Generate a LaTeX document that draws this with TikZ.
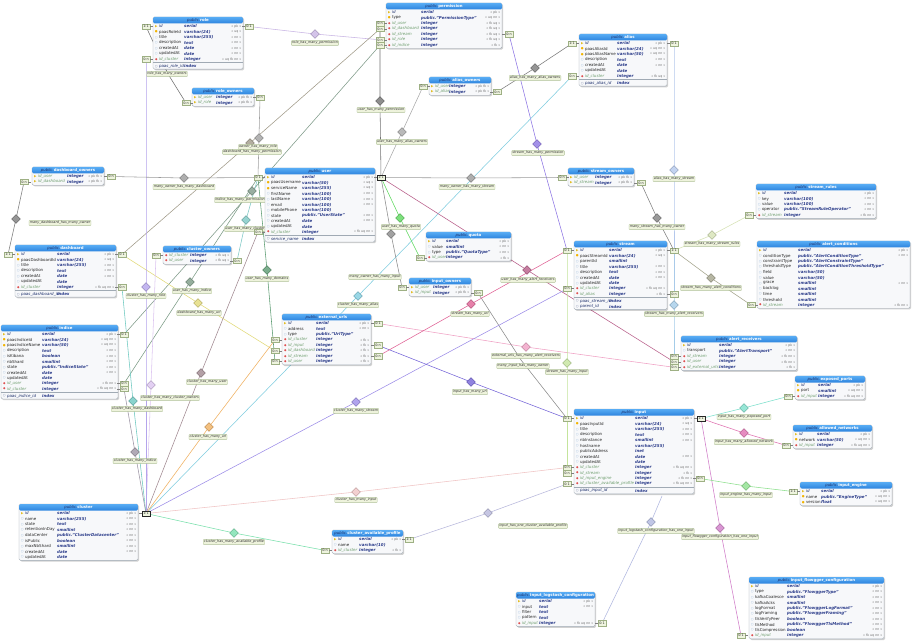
\documentclass[tikz,border=0pt]{standalone}
\usepackage{fontspec}
\setmainfont{DejaVu Sans}
\usetikzlibrary{shapes.geometric}
\pgfdeclarelayer{bg}
\pgfsetlayers{bg,main}

\definecolor{hdrtop}{HTML}{58ACF4}
\definecolor{hdrbot}{HTML}{2D84DE}
\definecolor{navy}{HTML}{1B2E6B}
\definecolor{typec}{HTML}{2B3C8A}
\definecolor{fkgreen}{HTML}{6E9E6E}
\definecolor{flagc}{HTML}{6A6A6A}
\definecolor{tbodyc}{HTML}{F7F8FA}
\definecolor{tborder}{HTML}{A0AAB4}
\definecolor{lblfill}{HTML}{EEF3DC}
\definecolor{lbldraw}{HTML}{AFC096}
\definecolor{cardfill}{HTML}{EEF4DE}
\definecolor{carddraw}{HTML}{9EB084}
\colorlet{nmk}{navy}
\colorlet{nmu}{black!85}
\colorlet{nmn}{black!85}
\colorlet{nmf}{fkgreen}
\colorlet{nmp}{fkgreen}

\definecolor{r1}{HTML}{C8B4E4}
\definecolor{r2}{HTML}{707070}
\definecolor{r3}{HTML}{727272}
\definecolor{r4}{HTML}{A0A0A0}
\definecolor{r5}{HTML}{A09A88}
\definecolor{r6}{HTML}{7E9A88}
\definecolor{r7}{HTML}{A8A8A8}
\definecolor{r8}{HTML}{7A7A7A}
\definecolor{r9}{HTML}{8C74E4}
\definecolor{r10}{HTML}{80CDE0}
\definecolor{r11}{HTML}{B4C8EC}
\definecolor{r12}{HTML}{9A9A9A}
\definecolor{r13}{HTML}{808080}
\definecolor{r14}{HTML}{D6E2B4}
\definecolor{r15}{HTML}{A4A48C}
\definecolor{r16}{HTML}{A4CCE8}
\definecolor{r17}{HTML}{B85C88}
\definecolor{r18}{HTML}{F0A0C4}
\definecolor{r19}{HTML}{5CD85C}
\definecolor{r20}{HTML}{8A8A8A}
\definecolor{r21}{HTML}{8A8A8A}
\definecolor{r22}{HTML}{5A9A70}
\definecolor{r23}{HTML}{E2DA78}
\definecolor{r24}{HTML}{7A9A84}
\definecolor{r25}{HTML}{DCC4F0}
\definecolor{r26}{HTML}{7CC8C4}
\definecolor{r27}{HTML}{A08890}
\definecolor{r28}{HTML}{6CC8C0}
\definecolor{r29}{HTML}{B4A4EC}
\definecolor{r30}{HTML}{9C94A4}
\definecolor{r31}{HTML}{F0B060}
\definecolor{r32}{HTML}{9C8CE8}
\definecolor{r33}{HTML}{F0C4C4}
\definecolor{r34}{HTML}{78E0AC}
\definecolor{r35}{HTML}{B8B8DC}
\definecolor{r36}{HTML}{B0B8E0}
\definecolor{r37}{HTML}{D07CC8}
\definecolor{r38}{HTML}{7CE0CC}
\definecolor{r39}{HTML}{E070B0}
\definecolor{r40}{HTML}{8CE08C}
\definecolor{r41}{HTML}{C4E49C}
\definecolor{r42}{HTML}{7464D8}
\definecolor{r43}{HTML}{E06094}
\definecolor{r44}{HTML}{9A9A9A}
\definecolor{r45}{HTML}{7A7A7A}

\newcommand\rowfont{\fontsize{4}{4.8}\selectfont}
\newcommand\flagfont{\fontsize{3.2}{4}\selectfont}
\newcommand\hdrfont{\fontsize{3.9}{4.6}\selectfont}
\newcommand\rlfont{\fontsize{3.4}{4}\selectfont\itshape}
\newcommand\cardfont{\fontsize{3.4}{4}\selectfont}
\newcommand\iconfont{\fontsize{3.2}{4}\selectfont}

\newcommand\ick{\textcolor[HTML]{E2BC1E}{▶}}
\newcommand\icu{\textcolor[HTML]{F2B400}{●}}
\newcommand\icn{\textcolor[HTML]{8AAED6}{○}}
\newcommand\icf{\textcolor[HTML]{DD4444}{◆}}
\newcommand\icp{\textcolor[HTML]{E2BC1E}{▶}}
\newcommand\fsk{\itshape}
\newcommand\fsu{}
\newcommand\fsn{}
\newcommand\fsf{\itshape}
\newcommand\fsp{\itshape}

\tikzset{
  conn/.style={line width=.55pt},
  dia/.style={diamond,aspect=1,minimum width=9,minimum height=9,inner sep=0,
    fill=#1!80!white,draw=#1!75!black,line width=.3},
  rlbl/.style={fill=lblfill,draw=lbldraw,line width=.3,inner sep=.7,
    rounded corners=.5,font=\rlfont,text=black!80},
  card/.style={fill=cardfill,draw=carddraw,line width=.35,inner sep=.6,
    minimum width=8,minimum height=5.3,font=\cardfont,text=black!80},
  stubline/.style={draw=black!50,line width=.4},
  cardL/.style={card,append after command={(\tikzlastnode.east) edge[stubline] ++(2.5,0)}},
  cardR/.style={card,append after command={(\tikzlastnode.west) edge[stubline] ++(-2.5,0)}},
  cardD/.style={draw=black!85,line width=.6},
  tbody/.style={draw=tborder,fill=tbodyc,rounded corners=1.5,line width=.4,inner sep=0,outer sep=0},
  rowtext/.style={inner sep=0,font=\rowfont,anchor=west},
  typetext/.style={inner sep=0,font=\rowfont\bfseries\itshape,text=typec,anchor=west},
  flagtext/.style={inner sep=0,font=\flagfont,text=flagc,anchor=east},
  rowicon/.style={inner sep=0,font=\iconfont},
}

\newcounter{nrows}
% #1 name #2 x0 #3 x1 #4 y0 #5 typeX #6 title #7 rows #8 number of index rows #9 index rows
\newcommand\dbtable[9]{%
  \setcounter{nrows}{0}%
  \foreach \q in {#7}{\stepcounter{nrows}}%
  \pgfmathsetmacro\lasty{#4+9.5+(\the\value{nrows}-1)*5.45}%
  \ifnum#8>0\relax
    \pgfmathsetmacro\boty{\lasty+3+#8*5.5+1.5}%
  \else
    \pgfmathsetmacro\boty{\lasty+3.3}%
  \fi
  \pgfmathsetmacro\tbw{#3-#2}%
  \pgfmathsetmacro\tbh{\boty-#4}%
  \fill[black,opacity=.18,rounded corners=1.5] (#2+1.2,#4+1.2) rectangle (#3+1.2,\boty+1.2);
  \node[tbody,minimum width=\tbw,minimum height=\tbh,anchor=north west] (#1) at (#2,#4) {};
  \shade[top color=hdrtop,bottom color=hdrbot,rounded corners=1.5] (#2,#4) rectangle (#3,#4+6.5);
  \node[inner sep=0,font=\hdrfont] (#1-h) at ({(#2+#3)/2},#4+3.4)
    {\textcolor{navy}{\itshape public.}\textcolor{white}{\bfseries #6}};
  \foreach \ic/\nm/\ty/\fl [count=\i] in {#7}{%
    \pgfmathsetmacro\yy{#4+9.5+(\i-1)*5.45}%
    \node[rowicon] (#1-i\i) at (#2+3.3,\yy) {\csname ic\ic\endcsname};
    \node[rowtext] (#1-n\i) at (#2+5.8,\yy) {\textcolor{nm\ic}{\csname fs\ic\endcsname\nm}};
    \node[typetext] (#1-t\i) at (#5,\yy) {\ty};
    \node[flagtext] (#1-f\i) at (#3-1.5,\yy) {\fl};
  }%
  \ifnum#8>0\relax
    \draw[tborder,line width=.3] (#2,\lasty+3) -- (#3,\lasty+3);
    \foreach \nm [count=\i] in {#9}{%
      \pgfmathsetmacro\yy{\lasty+1.5+\i*5.5}%
      \node[rowicon,text=navy!70] (#1-xi\i) at (#2+3.3,\yy) {○};
      \node[rowtext,text=navy] (#1-xn\i) at (#2+5.8,\yy) {\itshape\nm};
      \node[typetext] (#1-xt\i) at (#5,\yy) {index};
    }%
  \fi
}

\begin{document}
\begin{tikzpicture}[x=1pt,y=-1pt]
\useasboundingbox (0,0) rectangle (916,644);
\begin{pgfonlayer}{bg}
\fill[white] (0,0) rectangle (916,644);
\end{pgfonlayer}

% ---------- relationship diamonds and labels ----------
\node[dia=r1] (d1) at (315,34) {};   \node[rlbl] (l1) at (315,43) {role\_has\_many\_permission};
\coordinate (d2) at (168,74);        \node[rlbl] (l2) at (167,74) {role\_has\_many\_owners};
\node[dia=r3] (d3) at (380,101) {};  \node[rlbl] (l3) at (381,110) {user\_has\_many\_permission};
\node[dia=r4] (d4) at (259,138) {};
\node[dia=r5] (d5) at (250,143) {};
\node[rlbl] (l4) at (258,147) {owner\_has\_many\_role};
\node[rlbl] (l5) at (252,152) {dashboard\_has\_many\_permission};
\node[dia=r6] (d6) at (252,191) {};  \node[rlbl] (l6) at (240,200) {indice\_has\_many\_permission};
\node[dia=r7] (d7) at (402,132) {};  \node[rlbl] (l7) at (402,142) {user\_has\_many\_alias\_owners};
\node[dia=r8] (d8) at (535,68) {};   \node[rlbl] (l8) at (535,78) {alias\_has\_many\_alias\_owners};
\node[dia=r9] (d9) at (537,144) {};  \node[rlbl] (l9) at (538,153) {stream\_has\_many\_permission};
\node[dia=r10] (d10) at (358,296) {}; \node[rlbl] (l10) at (358,305) {cluster\_has\_many\_alias};
\node[dia=r11] (d11) at (674,170) {}; \node[rlbl] (l11) at (674,179) {alias\_has\_many\_stream};
\node[dia=r12] (d12) at (471,178) {}; \node[rlbl] (l12) at (467,187) {many\_owner\_has\_many\_stream};
\node[dia=r13] (d13) at (657,218) {}; \node[rlbl] (l13) at (657,227) {many\_stream\_has\_many\_owner};
\node[dia=r14] (d14) at (712,235) {}; \node[rlbl] (l14) at (712,244) {stream\_has\_many\_stream\_rules};
\node[dia=r15] (d15) at (711,278) {}; \node[rlbl] (l15) at (711,288) {stream\_has\_many\_alert\_conditions};
\node[dia=r16] (d16) at (674,305) {}; \node[rlbl] (l16) at (674,314) {stream\_has\_many\_alert\_receivers};
\node[dia=r17] (d17) at (527,270) {}; \node[rlbl] (l17) at (528,280) {user\_has\_many\_alert\_receivers};
\node[dia=r18] (d18) at (526,347) {}; \node[rlbl] (l18) at (526,356) {external\_urls\_has\_many\_alert\_receivers};
\node[dia=r19] (d19) at (400,218) {}; \node[rlbl] (l19) at (401,227) {user\_has\_many\_quota};
\node[dia=r20] (d20) at (391,234) {}; \node[rlbl] (l20) at (375,277) {many\_owner\_has\_many\_input};
\coordinate (d21) at (521,360);       \node[rlbl] (l21) at (523,366) {many\_input\_has\_many\_owner};
\node[dia=r22] (d22) at (267,270) {}; \node[rlbl] (l22) at (267,279) {user\_has\_many\_domains};
\node[dia=r23] (d23) at (198,303) {}; \node[rlbl] (l23) at (199,313) {dashboard\_has\_many\_url};
\node[dia=r24] (d24) at (190,282) {}; \node[rlbl] (l24) at (192,291) {user\_has\_many\_indice};
\node[dia=r25] (d25) at (151,385) {}; \node[rlbl] (l25) at (170,398) {cluster\_has\_many\_cluster\_owners};
\node[dia=r26] (d26) at (246,220) {}; \node[rlbl] (l26) at (252,229) {user\_has\_many\_cluster\_owners};
\node[dia=r27] (d27) at (201,373) {}; \node[rlbl] (l27) at (207,382) {cluster\_has\_many\_user};
\node[dia=r28] (d28) at (133,401) {}; \node[rlbl] (l28) at (137,409) {cluster\_has\_many\_dashboard};
\node[dia=r29] (d29) at (146,287) {}; \node[rlbl] (l29) at (146,296) {cluster\_has\_many\_role};
\node[dia=r30] (d30) at (135,452) {}; \node[rlbl] (l30) at (135,461) {cluster\_has\_many\_indice};
\node[dia=r31] (d31) at (209,427) {}; \node[rlbl] (l31) at (208,437) {cluster\_has\_many\_url};
\node[dia=r32] (d32) at (356,402) {}; \node[rlbl] (l32) at (356,411) {cluster\_has\_many\_stream};
\node[dia=r33] (d33) at (356,492) {}; \node[rlbl] (l33) at (356,500) {cluster\_has\_many\_input};
\node[dia=r34] (d34) at (234,533) {}; \node[rlbl] (l34) at (234,542) {cluster\_has\_many\_available\_profile};
\node[dia=r35] (d35) at (488,513) {}; \node[rlbl] (l35) at (533,526) {input\_has\_one\_cluster\_available\_profile};
\node[dia=r36] (d36) at (651,522) {}; \node[rlbl] (l36) at (656,531) {input\_logstash\_configuration\_has\_one\_input};
\node[dia=r37] (d37) at (720,528) {}; \node[rlbl] (l37) at (720,537) {input\_flowgger\_configuration\_has\_one\_input};
\node[dia=r38] (d38) at (744,408) {}; \node[rlbl] (l38) at (744,417) {input\_has\_many\_exposed\_port};
\node[dia=r39] (d39) at (744,433) {}; \node[rlbl] (l39) at (744,442) {input\_has\_many\_allowed\_network};
\node[dia=r40] (d40) at (746,486) {}; \node[rlbl] (l40) at (746,495) {input\_engine\_has\_many\_input};
\node[dia=r41] (d41) at (567,363) {}; \node[rlbl] (l41) at (567,372) {stream\_has\_many\_input};
\node[dia=r42] (d42) at (471,382) {}; \node[rlbl] (l42) at (470,392) {input\_has\_many\_url};
\node[dia=r43] (d43) at (471,304) {}; \node[rlbl] (l43) at (470,314) {stream\_has\_many\_url};
\node[dia=r44] (d44) at (184,178) {}; \node[rlbl] (l44) at (184,187) {many\_owner\_has\_many\_dashboard};
\node[dia=r45] (d45) at (16,219) {};  \node[rlbl] (l45) at (60,223) {many\_dashboard\_has\_many\_owner};
\coordinate (inbot) at (662,496);

% ---------- tables ----------
\dbtable{role}{153}{243}{17}{184}{role}{k/id/serial/« pk », u/paasRoleId/varchar(24)/« uq », n/title/varchar(255)/« nn », n/description/text/« nn », n/createdAt/date/« nn », n/updatedAt/date/« nn », f/id\_cluster/integer/« uq fk nn »}{1}{paas\_role\_id}
\dbtable{roleowners}{192}{254}{88}{216}{role\_owners}{p/id\_user/integer/« pk fk », p/id\_role/integer/« pk fk »}{0}{}
\dbtable{permission}{386}{502}{3}{421}{permission}{k/id/serial/« pk », u/type/public."PermissionType"/« uq nn », f/id\_user/integer/« fk uq », f/id\_dashboard/integer/« fk uq », f/id\_stream/integer/« fk uq », f/id\_role/integer/« fk uq », f/id\_indice/integer/« fk »}{0}{}
\dbtable{aliasowners}{429}{491}{77}{449}{alias\_owners}{p/id\_user/integer/« pk fk », p/id\_alias/integer/« pk fk »}{0}{}
\dbtable{alias}{579}{667}{34}{617}{alias}{k/id/serial/« pk », u/paasAliasId/varchar(24)/« uq nn », u/paasAliasName/varchar(50)/« uq nn », n/description/text/« nn », n/createdAt/date/« nn », n/updatedAt/date/{}, f/id\_cluster/integer/« fk uq »}{1}{paas\_alias\_id}
\dbtable{streamowners}{568}{634}{168}{595}{stream\_owners}{p/id\_user/integer/« pk fk », p/id\_stream/integer/« pk fk »}{0}{}
\dbtable{streamrules}{756}{876}{184}{784}{stream\_rules}{k/id/serial/« pk », n/key/varchar(100)/« nn », n/value/varchar(100)/« nn », n/operator/public."StreamRuleOperator"/« nn », f/id\_stream/integer/« fk nn »}{0}{}
\dbtable{alertcond}{757}{910}{241}{798}{alert\_conditions}{k/id/serial/« pk », n/conditionType/public."AlertConditionType"/« nn », n/constraintType/public."AlertConstraintType"/{}, n/thresholdType/public."AlertConditionThresholdType"/{}, n/field/varchar(50)/{}, n/value/varchar(50)/{}, n/grace/smallint/« nn », n/backlog/smallint/{}, n/time/smallint/{}, n/threshold/smallint/{}, f/id\_stream/integer/« fk nn »}{0}{}
\dbtable{user}{265}{375}{168}{302}{user}{k/id/serial/« pk », u/paasUsername/varchar(50)/« uq », u/serviceName/varchar(255)/« uq », n/firstName/varchar(100)/« nn », n/lastName/varchar(100)/« nn », n/email/varchar(100)/« nn », n/mobilePhone/varchar(100)/{}, n/state/public."UserState"/« nn », n/createdAt/date/« nn », n/updatedAt/date/{}, f/id\_cluster/integer/« fk uq nn »}{1}{service\_name}
\dbtable{dashowners}{32}{104}{167}{67}{dashboard\_owners}{p/id\_user/integer/« pk fk », p/id\_dashboard/integer/« pk fk »}{0}{}
\dbtable{dashboard}{15}{116}{245}{57}{dashboard}{k/id/serial/« pk », u/paasDashboardId/varchar(24)/« uq », n/title/varchar(255)/« nn », n/description/text/« nn », n/createdAt/date/« nn », n/updatedAt/date/{}, f/id\_cluster/integer/« fk uq nn »}{1}{paas\_dashboard\_id}
\dbtable{clusterowners}{163}{231}{246}{190}{cluster\_owners}{f/id\_cluster/integer/« fk uq », f/id\_user/integer/« fk uq »}{0}{}
\dbtable{indice}{1}{118}{325}{42}{indice}{k/id/serial/« pk », u/paasIndiceId/varchar(24)/« uq nn », u/paasIndiceName/varchar(50)/« uq nn », n/description/text/« nn », n/isKibana/boolean/« nn », n/nbShard/smallint/« nn », n/state/public."IndiceState"/« nn », n/createdAt/date/« nn », n/updatedAt/date/{}, f/id\_user/integer/« fk nn », f/id\_cluster/integer/« fk uq nn »}{1}{paas\_indice\_id}
\dbtable{quota}{426}{511}{232}{446}{quota}{k/id/serial/« pk », n/value/smallint/« nn », n/type/public."QuotaType"/« nn », f/id\_user/integer/« fk »}{0}{}
\dbtable{inputowners}{409}{471}{278}{433}{input\_owners}{p/id\_user/integer/« pk fk », p/id\_input/integer/« pk fk »}{0}{}
\dbtable{stream}{574}{667}{241}{609}{stream}{k/id/serial/« pk », u/paasStreamId/varchar(24)/« uq », n/parentId/smallint/{}, n/title/varchar(255)/« nn », n/description/text/« nn », n/createdAt/date/« nn », n/updatedAt/date/{}, f/id\_cluster/integer/« fk uq nn », f/id\_alias/integer/« fk »}{2}{paas\_stream\_id, parent\_id}
\dbtable{alertrec}{681}{797}{336}{719}{alert\_receivers}{k/id/serial/« pk », n/transport/public."AlertTransport"/« nn », f/id\_stream/integer/« fk nn », f/id\_user/integer/« fk nn », f/id\_external\_urls/integer/« fk »}{0}{}
\dbtable{exposedports}{795}{865}{376}{818}{exposed\_ports}{k/id/serial/« pk », u/port/smallint/« uq nn », f/id\_input/integer/« fk uq nn »}{0}{}
\dbtable{allowednet}{793}{872}{425}{817}{allowed\_networks}{k/id/serial/« pk », u/network/varchar(50)/« uq nn », f/id\_input/integer/« fk uq nn »}{0}{}
\dbtable{inputengine}{800}{892}{482}{821}{input\_engine}{k/id/serial/« pk », u/name/public."EngineType"/« uq nn », u/version/float/« uq nn »}{0}{}
\dbtable{input}{574}{694}{409}{635}{input}{k/id/serial/« pk », u/paasInputId/varchar(24)/« uq », n/title/varchar(255)/« nn », n/description/text/« nn », n/nbInstance/smallint/« nn », n/hostname/varchar(255)/{}, n/publicAddress/inet/{}, n/createdAt/date/« nn », n/updatedAt/date/{}, f/id\_cluster/integer/« fk uq nn », f/id\_stream/integer/« fk », f/id\_input\_engine/integer/« fk nn », f/id\_cluster\_available\_profile/integer/« fk uq nn »}{1}{paas\_input\_id}
\dbtable{cluster}{19}{138}{504}{57}{cluster}{k/id/serial/« pk », n/name/varchar(255)/« nn », n/state/text/« nn », n/retentionInDay/smallint/« nn », n/dataCenter/public."ClusterDatacenter"/« nn », n/isPublic/boolean/« nn », n/maxNbShard/smallint/« nn », n/createdAt/date/« nn », n/updatedAt/date/{}}{0}{}
\dbtable{cap}{332}{403}{530}{359}{cluster\_available\_profile}{k/id/serial/« pk », n/name/varchar(10)/{}, f/id\_cluster/integer/« fk »}{0}{}
\dbtable{ilc}{516}{595}{592}{539}{input\_logstash\_configuration}{k/id/serial/« pk », n/input/text/« nn », n/filter/text/{}, n/pattern/text/{}, f/id\_input/integer/« fk uq nn »}{0}{}
\dbtable{ifc}{749}{884}{577}{787}{input\_flowgger\_configuration}{k/id/serial/« pk », n/type/public."FlowggerType"/« nn », n/kafkaCoalesce/smallint/« nn », n/kafkaAcks/smallint/« nn », n/logFormat/public."FlowggerLogFormat"/« nn », n/logFraming/public."FlowggerFraming"/« nn », n/tlsVerifyPeer/boolean/« nn », n/tlsMethod/public."FlowggerTlsMethod"/« nn », n/tlsCompression/boolean/« nn », f/id\_input/integer/« fk uq nn »}{0}{}
\dbtable{exturls}{282}{371}{314}{316}{external\_urls}{k/id/serial/« pk », n/address/text/« nn », n/type/public."UrlType"/{}, f/id\_cluster/integer/« fk », f/id\_input/integer/« fk », f/id\_dashboard/integer/« fk », f/id\_stream/integer/« fk », f/id\_user/integer/« fk »}{0}{}

% ---------- cardinality labels ----------
\node[cardR] (c1) at (249,26.5) {0:1};
\node[cardL] (c2) at (146,26.5) {1:1};
\node[cardL] (c3) at (146,59.2) {0:n};
\node[cardL] (c4) at (186,103) {0:n};
\node[cardR] (c5) at (260,97.5) {0:n};
\node[cardL] (c6) at (380,23.4) {0:n};
\node[cardL] (c7) at (380,28.9) {0:n};
\node[cardL] (c8) at (380,39.8) {0:n};
\node[cardL] (c9) at (380,45.2) {0:n};
\node[cardR] (c10) at (509,34.3) {0:n};
\node[cardL] (c11) at (423,86.5) {0:n};
\node[cardR] (c12) at (497,92) {0:n};
\node[cardL] (c13) at (572,43.5) {1:1};
\node[cardL] (c14) at (572,76.2) {0:n};
\node[cardR] (c15) at (674,43.5) {0:1};
\node[cardL] (c16) at (562,177.5) {0:n};
\node[cardR] (c17) at (641,183) {0:n};
\node[cardL] (c18) at (749,215.3) {0:n};
\node[cardL] (c19) at (751,305) {0:n};
\node[cardL] (c20) at (258,177.5) {0:1};
\node[cardR,cardD] (c21) at (381,177.5) {1:1};
\node[cardL] (c22) at (258,232) {0:n};
\node[cardR] (c23) at (111,176.5) {0:n};
\node[cardL] (c24) at (24,182) {0:n};
\node[cardL] (c25) at (8,254.5) {1:1};
\node[cardR] (c26) at (122,254.5) {0:1};
\node[cardR] (c27) at (122,287.2) {0:n};
\node[cardL] (c28) at (156,255.5) {0:n};
\node[cardR] (c29) at (237,261) {0:n};
\node[cardR] (c30) at (124,334.5) {0:1};
\node[cardR] (c31) at (124,383.6) {0:n};
\node[cardR] (c32) at (124,389) {0:n};
\node[cardL] (c33) at (420,257.9) {0:n};
\node[cardL] (c34) at (402,287.5) {0:n};
\node[cardR] (c35) at (478,293) {0:n};
\node[cardL] (c36) at (567,250.5) {0:1};
\node[cardL] (c37) at (567,288.7) {0:n};
\node[cardR] (c38) at (674,250.5) {1:1};
\node[cardR] (c39) at (674,294.1) {0:n};
\node[cardL] (c40) at (674,356.4) {0:n};
\node[cardL] (c41) at (674,361.9) {0:n};
\node[cardL] (c42) at (674,367.3) {0:n};
\node[cardL] (c43) at (788,396.4) {0:n};
\node[cardL] (c44) at (786,445.4) {0:n};
\node[cardL] (c45) at (793,491.5) {1:1};
\node[cardL] (c46) at (567,418.5) {0:1};
\node[cardL] (c47) at (567,467.6) {0:n};
\node[cardL] (c48) at (567,473.1) {0:n};
\node[cardL] (c49) at (567,484) {0:1};
\node[cardR,cardD] (c50) at (701,418.5) {1:1};
\node[cardR] (c51) at (700,478.5) {0:n};
\node[cardR,cardD] (c52) at (146,513.5) {1:1};
\node[cardL] (c53) at (325,550.4) {0:n};
\node[cardR] (c54) at (409,539.5) {1:1};
\node[cardR] (c55) at (602,623.3) {0:1};
\node[cardL] (c56) at (741,635.6) {0:1};
\node[cardL] (c57) at (275,339.9) {0:n};
\node[cardL] (c58) at (275,350.8) {0:n};
\node[cardL] (c59) at (275,361.7) {0:n};
\node[cardR] (c60) at (378,323.5) {0:1};
\node[cardR] (c61) at (378,345.3) {0:n};
\node[cardR] (c62) at (378,356.2) {0:n};

% ---------- connectors ----------
\begin{pgfonlayer}{bg}
\draw[conn,r1] (c1.center) -- (d1.center) -- (c8.center);
\draw[conn,r2] (c4.center) -- (d2) -- (c2.center);
\draw[conn,r3] (c6.center) -- (d3.center) -- (c21.center);
\draw[conn,r4] (c5.center) -- (d4.center) -- (c20.center);
\draw[conn,r5] (c7.center) -- (d5.center) -- (c26.center);
\draw[conn,r6] (c9.center) -- (d6.center) -- (c30.center);
\draw[conn,r7] (c11.center) -- (d7.center) -- (c21.center);
\draw[conn,r8] (c12.center) -- (d8.center) -- (c13.center);
\draw[conn,r9] (c10.center) -- (d9.center) -- (c36.center);
\draw[conn,r10] (c14.center) -- (d10.center) -- (c52.center);
\draw[conn,r11] (c15.center) -- (d11.center) -- (c39.center);
\draw[conn,r12] (c16.center) -- (d12.center) -- (c21.center);
\draw[conn,r13] (c17.center) -- (d13.center) -- (c38.center);
\draw[conn,r14] (c18.center) -- (d14.center) -- (c38.center);
\draw[conn,r15] (c19.center) -- (d15.center) -- (c38.center);
\draw[conn,r16] (c38.center) -- (d16.center) -- (c40.center);
\draw[conn,r17] (c21.center) -- (d17.center) -- (c41.center);
\draw[conn,r18] (c60.center) -- (d18.center) -- (c42.center);
\draw[conn,r19] (c21.center) -- (d19.center) -- (c33.center);
\draw[conn,r20] (c21.center) -- (d20.center) -- (c34.center);
\draw[conn,r21] (c35.center) -- (d21) -- (c46.center);
\draw[conn,r22] (c20.center) -- (d22.center) -- (c59.center);
\draw[conn,r23] (c26.center) -- (d23.center) -- (c58.center);
\draw[conn,r24] (c20.center) -- (d24.center) -- (c31.center);
\draw[conn,r25] (c52.center) -- (d25.center) -- (c28.center);
\draw[conn,r26] (c20.center) -- (d26.center) -- (c29.center);
\draw[conn,r27] (c22.center) -- (d27.center) -- (c52.center);
\draw[conn,r28] (c27.center) -- (d28.center) -- (c52.center);
\draw[conn,r29] (c3.center) -- (d29.center) -- (c52.center);
\draw[conn,r30] (c32.center) -- (d30.center) -- (c52.center);
\draw[conn,r31] (c52.center) -- (d31.center) -- (c57.center);
\draw[conn,r32] (c52.center) -- (d32.center) -- (c37.center);
\draw[conn,r33] (c52.center) -- (d33.center) -- (c47.center);
\draw[conn,r34] (c52.center) -- (d34.center) -- (c53.center);
\draw[conn,r35] (c54.center) -- (d35.center) -- (c49.center);
\draw[conn,r36] (c55.center) -- (d36.center) -- (inbot);
\draw[conn,r37] (c56.center) -- (d37.center) -- (c50.center);
\draw[conn,r38] (c50.center) -- (d38.center) -- (c43.center);
\draw[conn,r39] (c50.center) -- (d39.center) -- (c44.center);
\draw[conn,r40] (c51.center) -- (d40.center) -- (c45.center);
\draw[conn,r41] (c36.center) -- (d41.center) -- (c48.center);
\draw[conn,r42] (c61.center) -- (d42.center) -- (c46.center);
\draw[conn,r43] (c62.center) -- (d43.center) -- (c36.center);
\draw[conn,r44] (c23.center) -- (d44.center) -- (c20.center);
\draw[conn,r45] (c24.center) -- (d45.center) -- (c25.center);
\end{pgfonlayer}
\end{tikzpicture}
\end{document}
